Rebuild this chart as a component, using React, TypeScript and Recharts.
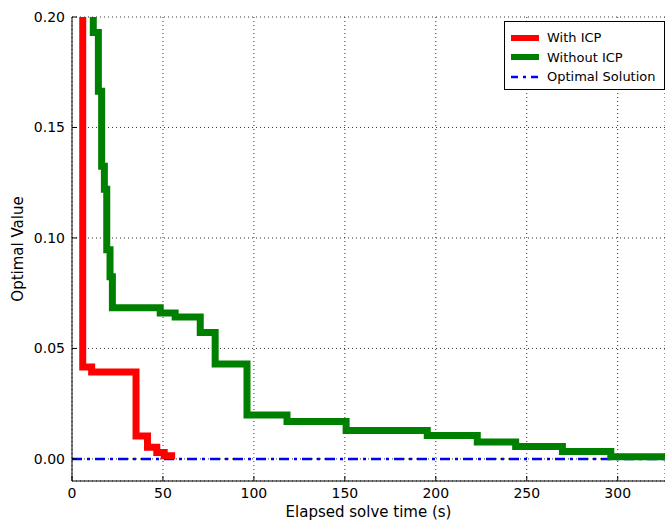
import React from "react";
import {
  LineChart,
  Line,
  XAxis,
  YAxis,
  CartesianGrid,
  Legend,
} from "recharts";

type Pt = { t: number; v: number };

const xTicks = [0, 50, 100, 150, 200, 250, 300];
const yTicks = [0, 0.05, 0.1, 0.15, 0.2];

// times (s) and objective values
const icpTimes = [0, 5.9, 10.8, 35.2, 41.5, 46.6, 50.7, 56.7];
const icpValues = [0.5, 0.0416, 0.0393, 0.0104, 0.0053, 0.0029, 0.0014, 0.0014];

const noIcpTimes = [
  0, 11.7, 14.5, 16.3, 17.8, 19.1, 20.9, 22.2, 48.5, 56.7, 70.5, 78.7, 96.2,
  118.2, 150.7, 195.3, 222.8, 243.9, 269.6, 296.2, 326,
];
const noIcpValues = [
  0.5, 0.193, 0.1664, 0.1324, 0.122, 0.0947, 0.0824, 0.0684, 0.066, 0.0642,
  0.0572, 0.043, 0.0199, 0.0169, 0.0128, 0.0106, 0.0076, 0.0056, 0.0033,
  0.001, 0.001,
];

const optTimes = [0, 326];
const optValues = [0, 0];

const zip = (ts: number[], vs: number[]): Pt[] =>
  ts.map((t, i) => ({ t, v: vs[i] }));

const icp = zip(icpTimes, icpValues);
const noIcp = zip(noIcpTimes, noIcpValues);
const opt = zip(optTimes, optValues);

const FONT = "DejaVu Sans, Liberation Sans, sans-serif";

const BottomTick = (p: any) => (
  <g>
    <line x1={p.x} y1={p.y} x2={p.x} y2={p.y - 5} stroke="#000" />
    <text x={p.x} y={p.y + 17} textAnchor="middle" fontSize={14} fontFamily={FONT} fill="#000">
      {p.payload.value}
    </text>
  </g>
);

const TopTick = (p: any) => (
  <line x1={p.x} y1={p.y} x2={p.x} y2={p.y + 5} stroke="#000" />
);

const LeftTick = (p: any) => (
  <g>
    <line x1={p.x} y1={p.y} x2={p.x + 5} y2={p.y} stroke="#000" />
    <text x={p.x - 7} y={p.y + 5} textAnchor="end" fontSize={14} fontFamily={FONT} fill="#000">
      {Number(p.payload.value).toFixed(2)}
    </text>
  </g>
);

const legendItems = [
  { name: "With ICP", color: "#ff0000", dash: undefined as string | undefined, w: 6 },
  { name: "Without ICP", color: "#008000", dash: undefined, w: 6 },
  { name: "Optimal Solution", color: "#0000ff", dash: "7 5 3 5", w: 2.5 },
];

const LegendBox = () => (
  <div
    style={{
      border: "1px solid #000",
      background: "#fff",
      padding: "6px 4px 2px 6px",
      fontFamily: FONT,
      fontSize: 13,
      lineHeight: "19.5px",
      color: "#000",
    }}
  >
    {legendItems.map((it) => (
      <div key={it.name} style={{ display: "flex", alignItems: "center", whiteSpace: "nowrap" }}>
        <svg width={28} height={10} style={{ marginRight: 8 }}>
          <line
            x1={0}
            y1={5}
            x2={28}
            y2={5}
            stroke={it.color}
            strokeWidth={it.w}
            strokeDasharray={it.dash}
          />
        </svg>
        <span>{it.name}</span>
      </div>
    ))}
  </div>
);

export default function App() {
  return (
    <div style={{ position: "absolute", left: 0, top: 0, width: 665, height: 520, background: "#fff" }}>
      <LineChart
        width={665}
        height={520}
        margin={{ top: 17, right: 0, bottom: 0, left: 0 }}
      >
        <CartesianGrid stroke="#333" strokeDasharray="1 3" />
        <XAxis
          dataKey="t"
          type="number"
          domain={[0, 326]}
          ticks={xTicks}
          allowDataOverflow
          axisLine={{ stroke: "#000" }}
          tickLine={false}
          tickSize={0}
          tickMargin={0}
          tick={BottomTick}
          height={39}
          label={{
            value: "Elapsed solve time (s)",
            position: "insideBottom",
            offset: 3,
            fontSize: 15,
            fontFamily: FONT,
            fill: "#000",
          }}
        />
        <XAxis
          xAxisId="top"
          orientation="top"
          dataKey="t"
          type="number"
          domain={[0, 326]}
          ticks={xTicks}
          allowDataOverflow
          axisLine={{ stroke: "#000" }}
          tickLine={false}
          tickSize={0}
          tickMargin={0}
          tick={TopTick}
          height={0}
        />
        <YAxis
          dataKey="v"
          type="number"
          domain={[-0.01, 0.2]}
          ticks={yTicks}
          allowDataOverflow
          axisLine={{ stroke: "#000" }}
          tickLine={false}
          tickSize={0}
          tickMargin={0}
          tick={LeftTick}
          width={72}
          label={{
            value: "Optimal Value",
            angle: -90,
            position: "insideLeft",
            offset: 18,
            style: { textAnchor: "middle" },
            fontSize: 15,
            fontFamily: FONT,
            fill: "#000",
          }}
        />
        <Legend
          layout="horizontal"
          verticalAlign="middle"
          align="center"
          wrapperStyle={{ top: 21, left: 504, width: 161, height: 66 }}
          content={() => <LegendBox />}
        />
        <Line
          data={opt}
          dataKey="v"
          name="Optimal Solution"
          stroke="#0000ff"
          strokeWidth={2.5}
          strokeDasharray="10 5 3 5"
          dot={false}
          isAnimationActive={false}
        />
        <Line
          data={noIcp}
          dataKey="v"
          name="Without ICP"
          type="stepAfter"
          stroke="#008000"
          strokeWidth={7}
          dot={false}
          isAnimationActive={false}
        />
        <Line
          data={icp}
          dataKey="v"
          name="With ICP"
          type="stepAfter"
          stroke="#ff0000"
          strokeWidth={7}
          dot={false}
          isAnimationActive={false}
        />
      </LineChart>
    </div>
  );
}
